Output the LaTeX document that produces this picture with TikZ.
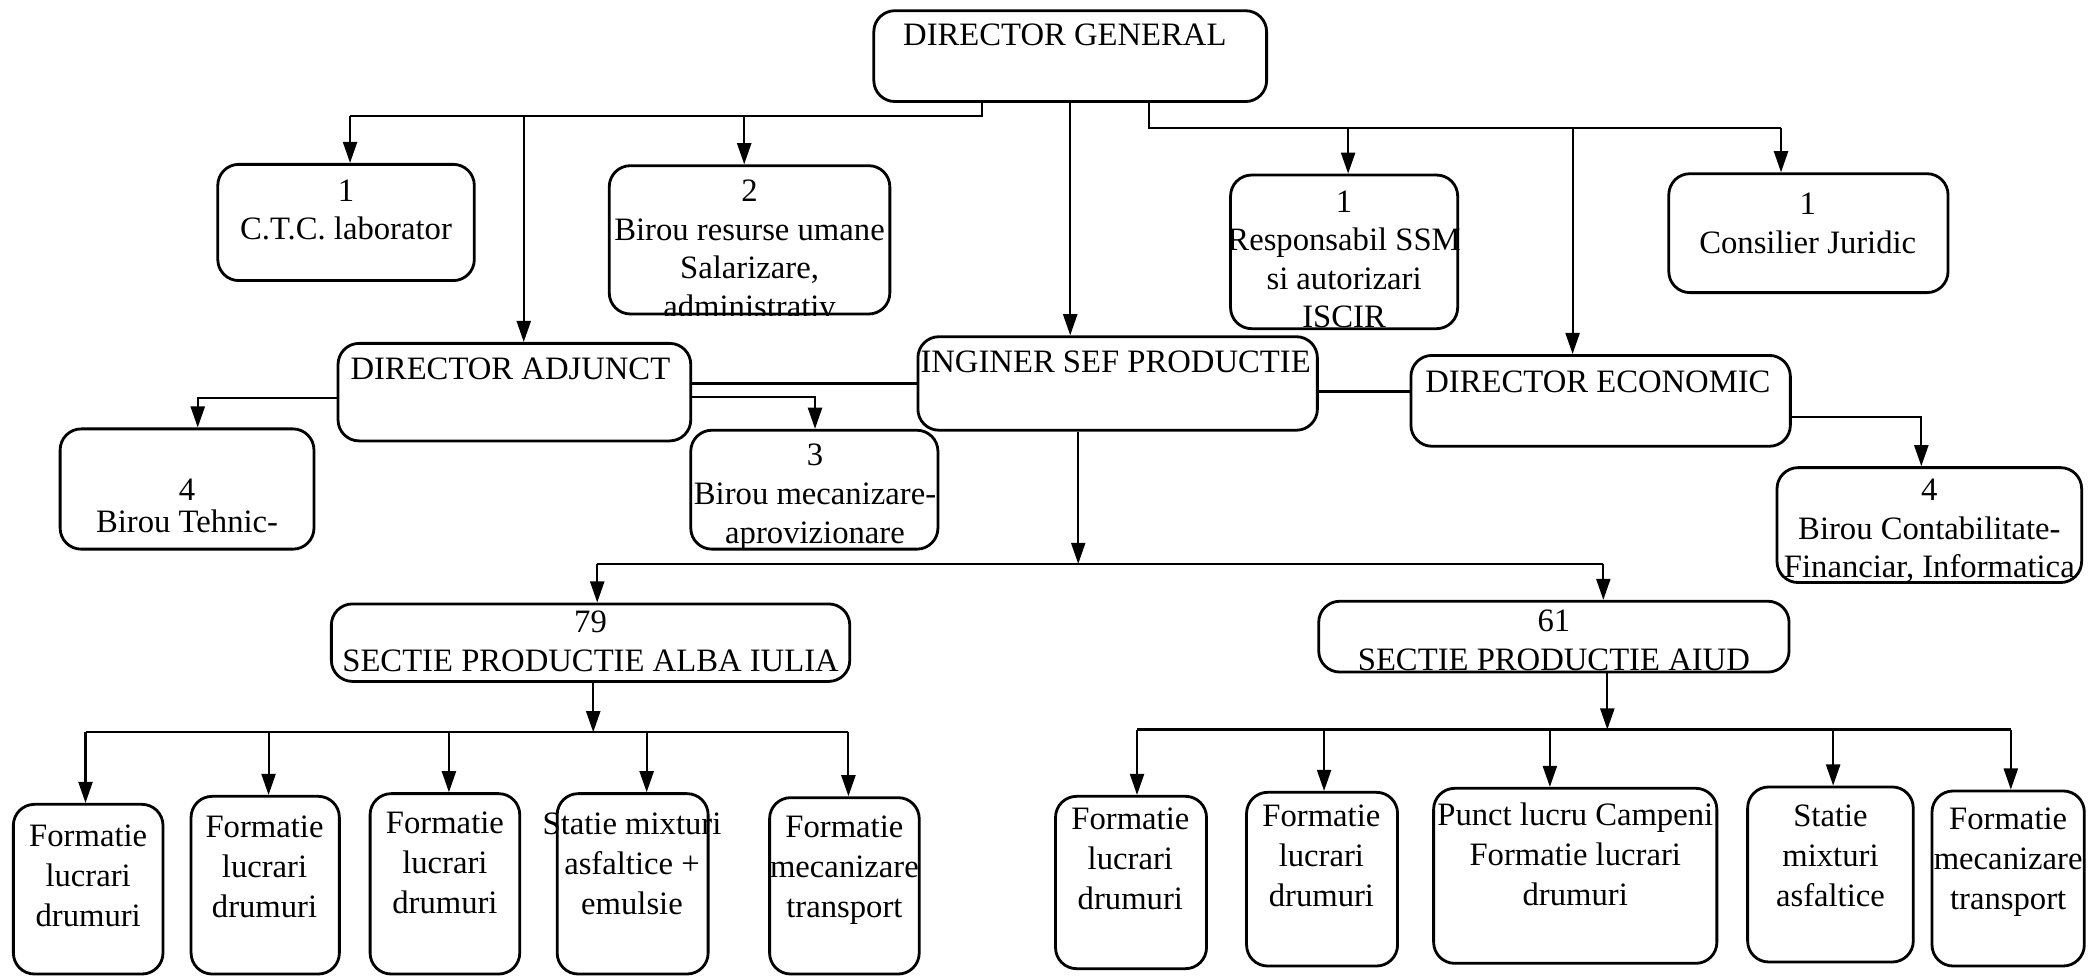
\documentclass[tikz,border=0pt]{standalone}
\usepackage{fontspec}
\setmainfont{Liberation Serif}
\usetikzlibrary{arrows.meta,fit}
\begin{document}
\begin{tikzpicture}[x=0.013361cm,y=-0.013361cm,
  box/.style={draw, line width=0.8pt, rounded corners=6pt, inner sep=0pt},
  txt/.style={anchor=north, align=center, inner sep=0pt, font=\fontsize{9.3}{11}\selectfont},
  btxt/.style={txt, font=\fontsize{9.3}{11.4}\selectfont},
  arr/.style={line width=0.6pt, -{Triangle[width=4pt,length=6pt]}},
  ln/.style={line width=0.6pt}]
\useasboundingbox (0,0) rectangle (1568,730);
% ---------- boxes ----------
\node[box, fit={(654,8) (948,76)}] (DG) {};
\node[box, fit={(163,123) (355,210)}] (CTC) {};
\node[box, fit={(456,124) (666,235)}] (BRU) {};
\node[box, fit={(921,131) (1091,246)}] (SSM) {};
\node[box, fit={(1249,130) (1458,219)}] (CJ) {};
\node[box, fit={(253,257) (517,330)}] (DA) {};
\node[box, fit={(687,252) (986,322)}] (ISP) {};
\node[box, fit={(1056,266) (1340,334)}] (DE) {};
\node[box, fit={(45,321) (235,411)}] (BT) {};
\node[box, fit={(517,322) (702,411)}] (BM) {};
\node[box, fit={(1330,350) (1558,436)}] (BC) {};
\node[box, fit={(248,452) (636,510)}] (SA) {};
\node[box, fit={(987,450) (1339,503)}] (SAi) {};
\node[box, fit={(10,602) (122,729)}] (B1) {};
\node[box, fit={(143,596) (254,729)}] (B2) {};
\node[box, fit={(277,594) (389,729)}] (B3) {};
\node[box, fit={(417,594) (530,729)}] (B4) {};
\node[box, fit={(576,597) (688,729)}] (B5) {};
\node[box, fit={(790,596) (903,725)}] (C1) {};
\node[box, fit={(933,593) (1046,723)}] (C2) {};
\node[box, fit={(1073,590) (1285,721)}] (C3) {};
\node[box, fit={(1308,589) (1432,720)}] (C4) {};
\node[box, fit={(1446,592) (1560,723)}] (C5) {};
% ---------- texts ----------
\node[txt] (tDG) at (797,17) {DIRECTOR GENERAL};
\node[txt] (tCTC) at (259,134) {1\\C.T.C. laborator};
\begin{scope}
\clip[rounded corners=6pt] (BRU.south west) rectangle (BRU.north east);
\node[txt] (tBRU) at (561,134) {2\\Birou resurse umane\\Salarizare,\\administrativ};
\end{scope}
\begin{scope}
\clip[rounded corners=6pt] (SSM.south west) rectangle (SSM.north east);
\node[txt] (tSSM) at (1006,142) {1\\Responsabil SSM\\si autorizari\\ISCIR};
\end{scope}
\node[txt] (tCJ) at (1353,144) {1\\Consilier Juridic};
\node[txt] (tDA) at (382,267) {DIRECTOR ADJUNCT};
\node[txt] (tISP) at (835,262) {INGINER SEF PRODUCTIE};
\node[txt] (tDE) at (1196,277) {DIRECTOR ECONOMIC};
\node[txt] (tBT) at (140,358) {4\\[-2pt]Birou Tehnic-};
\node[txt] (tBM) at (610,332) {3\\Birou mecanizare-\\aprovizionare};
\node[txt] (tBC) at (1444,358) {4\\Birou Contabilitate-\\Financiar, Informatica};
\node[txt] (tSA) at (442,457) {79\\SECTIE PRODUCTIE ALBA IULIA};
\begin{scope}
\clip[rounded corners=6pt] (SAi.south west) rectangle (SAi.north east);
\node[txt] (tSAi) at (1163,456) {61\\SECTIE PRODUCTIE AIUD};
\end{scope}
\node[btxt] (tB1) at (66,617) {Formatie\\lucrari\\drumuri};
\node[btxt] (tB2) at (198,610) {Formatie\\lucrari\\drumuri};
\node[btxt] (tB3) at (333,607) {Formatie\\lucrari\\drumuri};
\node[btxt] (tB4) at (473,608) {Statie mixturi\\asfaltice +\\emulsie};
\node[btxt] (tB5) at (632,610) {Formatie\\mecanizare\\transport};
\node[btxt] (tC1) at (846,604) {Formatie\\lucrari\\drumuri};
\node[btxt] (tC2) at (989,602) {Formatie\\lucrari\\drumuri};
\node[btxt] (tC3) at (1179,600) {Punct lucru Campeni\\Formatie lucrari\\drumuri};
\node[btxt] (tC4) at (1370,602) {Statie\\mixturi\\asfaltice};
\node[btxt] (tC5) at (1503,604) {Formatie\\mecanizare\\transport};
% ---------- junctions ----------
\coordinate (j1) at (735,87);
\coordinate (aCTC) at (262,87);
\coordinate (aDA) at (392,87);
\coordinate (aBRU) at (557,87);
\coordinate (j2) at (860,96);
\coordinate (aSSM) at (1009,96);
\coordinate (aDE) at (1177,96);
\coordinate (aCJ) at (1333,96);
\coordinate (dal) at (148,298);
\coordinate (dar) at (600,287);
\coordinate (dbm) at (610,297);
\coordinate (ide) at (1020,293);
\coordinate (dbc) at (1438,312);
\coordinate (isd) at (807,422);
\coordinate (sal) at (447,422);
\coordinate (sar) at (1200,422);
\coordinate (sad) at (444,548);
\coordinate (l1) at (64,548);
\coordinate (l2) at (201,548);
\coordinate (l3) at (336,548);
\coordinate (l4) at (484,548);
\coordinate (l5) at (635,548);
\coordinate (sid) at (1203,546);
\coordinate (r1) at (851,546);
\coordinate (r2) at (991,546);
\coordinate (r3) at (1160,546);
\coordinate (r4) at (1372,546);
\coordinate (r5) at (1505,546);
% ---------- connectors ----------
\draw[ln] (DG.south -| j1) -- (j1) -- (aCTC);
\draw[arr] (aCTC) -- (aCTC |- CTC.north);
\draw[arr] (aDA) -- (aDA |- DA.north);
\draw[arr] (aBRU) -- (aBRU |- BRU.north);
\draw[arr] (DG.south) -- (DG.south |- ISP.north);
\draw[ln] (DG.south -| j2) -- (j2) -- (aCJ);
\draw[arr] (aSSM) -- (aSSM |- SSM.north);
\draw[arr] (aDE) -- (aDE |- DE.north);
\draw[arr] (aCJ) -- (aCJ |- CJ.north);
\draw[arr] (DA.west |- dal) -- (dal) -- (dal |- BT.north);
\draw[ln] (DA.east |- dar) -- (ISP.west |- dar);
\draw[arr] (DA.east |- dbm) -- (dbm) -- (dbm |- BM.north);
\draw[ln] (ISP.east |- ide) -- (DE.west |- ide);
\draw[arr] (DE.east |- dbc) -- (dbc) -- (dbc |- BC.north);
\draw[arr] (ISP.south -| isd) -- (isd);
\draw[ln] (sal) -- (sar);
\draw[arr] (sal) -- (sal |- SA.north);
\draw[arr] (sar) -- (sar |- SAi.north);
\draw[arr] (SA.south -| sad) -- (sad);
\draw[ln] (l1) -- (l5);
\draw[arr] (l1) -- (l1 |- B1.north);
\draw[arr] (l2) -- (l2 |- B2.north);
\draw[arr] (l3) -- (l3 |- B3.north);
\draw[arr] (l4) -- (l4 |- B4.north);
\draw[arr] (l5) -- (l5 |- B5.north);
\draw[arr] (SAi.south -| sid) -- (sid);
\draw[ln] (r1) -- (r5);
\draw[arr] (r1) -- (r1 |- C1.north);
\draw[arr] (r2) -- (r2 |- C2.north);
\draw[arr] (r3) -- (r3 |- C3.north);
\draw[arr] (r4) -- (r4 |- C4.north);
\draw[arr] (r5) -- (r5 |- C5.north);
\end{tikzpicture}
\end{document}
